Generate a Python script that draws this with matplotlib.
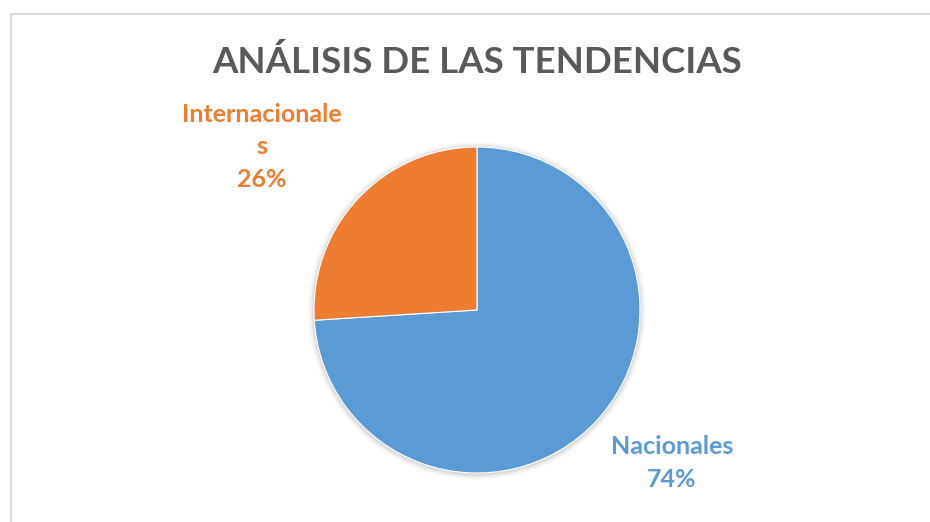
import matplotlib
matplotlib.use("Agg")
import matplotlib.pyplot as plt
from matplotlib.patches import Rectangle, Circle

categories = ["Nacionales", "Internacionales"]
values = [74, 26]
label_texts = ["Nacionales\n74%", "Internacionale\ns\n26%"]
colors = ["#5B9BD5", "#ED7D31"]
title = "ANÁLISIS DE LAS TENDENCIAS"

W, H = 930, 522
fig = plt.figure(figsize=(W / 100, H / 100), dpi=100)
fig.patch.set_facecolor("white")

def px(x, y):
    return x / W, 1 - y / H

# chart border (extends beyond right/bottom edges)
fig.patches.append(Rectangle(px(10.5, 600), 1000 / W, (600 - 14) / H,
                             transform=fig.transFigure, fill=False,
                             edgecolor="#D9D9D9", linewidth=1.5))

cx, cy, r = 477, 310, 163
ax = fig.add_axes([(cx - r) / W, (H - cy - r) / H, 2 * r / W, 2 * r / H])
ax.set_xlim(-1, 1)
ax.set_ylim(-1, 1)
ax.set_aspect("equal")
ax.axis("off")

# soft shadow
for i, a in enumerate([0.05, 0.04, 0.03, 0.02, 0.01]):
    ax.add_patch(Circle((0, -0.005), 1.0 + 0.008 * (i + 1), color="black",
                        alpha=a, linewidth=0, zorder=0, clip_on=False))

ax.pie(values, colors=colors, startangle=90, counterclock=False, radius=1.0,
       wedgeprops=dict(linewidth=0.8, edgecolor="white"))
ax.set_xlim(-1, 1)
ax.set_ylim(-1, 1)

font = "Lato"
fig.text(*px(477, 62), title, ha="center", va="center", fontsize=26.4,
         fontweight="bold", color="#595959", family=font)

fig.text(*px(262, 147), label_texts[1], ha="center", va="center", fontsize=18,
         fontweight="bold", color=colors[1], family=font, linespacing=1.5)
fig.text(*px(672, 463), label_texts[0], ha="center", va="center", fontsize=18,
         fontweight="bold", color=colors[0], family=font, linespacing=1.5)

fig.savefig("out.png", dpi=100)
